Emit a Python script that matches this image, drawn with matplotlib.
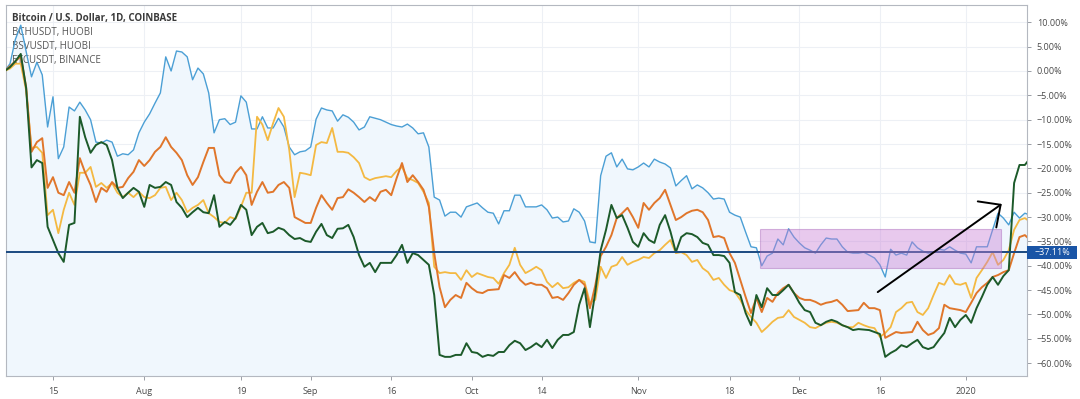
import matplotlib.pyplot as plt
import matplotlib.dates as mdates
from matplotlib.patches import Rectangle
import pandas as pd

plt.rcParams['font.family'] = ['Open Sans', 'DejaVu Sans']

# % change since start, one value per day starting 2019-07-06
btc = [0, 1.5, 6.5, 9.4, 4, -1.2, 1.8, -0.8, -11.5, -5.3,
       -18, -15.6, -7.4, -8.2, -6.4, -8, -10, -14.6, -14.8, -14.2,
       -14.6, -17.5, -17, -17.2, -16.2, -12.7, -10.5, -8.8, -6.6, -4.5,
       2.9, 0, 4.1, 3.9, 2.9, -1.8, 0.6, -0.6, -4.5, -12.7,
       -10, -9.8, -11, -10.5, -5.1, -6.4, -11.9, -11.9, -9.4, -11.7,
       -11.7, -9.7, -11.5, -15.6, -17.2, -16.6, -16.4, -15.6, -9.9, -7.6,
       -8, -8.2, -10.3, -9, -9.5, -10.5, -12.1, -11.5, -9.4, -9.7,
       -10, -10.5, -11, -11.3, -11.5, -10.9, -11.7, -12.9, -12.7, -15.6,
       -25.9, -26.5, -29.8, -29, -29, -30, -27.9, -27.5, -27.1, -28.1,
       -29, -29.2, -31.4, -28.7, -28.7, -25.5, -25.5, -27.9, -27.9, -27.9,
       -27.5, -28.5, -30.2, -30, -31, -30.8, -28.3, -29, -30.8, -35.1,
       -35.3, -21.5, -17.5, -16.8, -19.7, -18.1, -20.1, -20.3, -19.7, -18.9,
       -19.7, -18.1, -18.7, -19.1, -19.9, -23.6, -22.5, -21.5, -24.2, -23.4,
       -24, -25, -26.3, -26.1, -26.3, -29, -29.6, -30, -33.1, -36.1,
       -36.3, -40, -38, -37.4, -34.5, -35.7, -32.4, -34.1, -35.3, -36.3,
       -36.8, -37.4, -35.7, -34.3, -34.5, -34.5, -36.1, -37.2, -37.4, -37.4,
       -37.2, -37.8, -38.4, -39.8, -42.3, -36.6, -37.8, -37.4, -37.8, -35.1,
       -36.3, -37, -37.4, -37.2, -36.6, -36.8, -36.1, -36.8, -37.4, -37.6,
       -39.4, -36.1, -36.1, -36.1, -32.6, -29.2, -30.2, -31.6, -29, -30.2,
       -29.2, -29.6]

bch = [0, 1, 2, 3, -3.3, -16.6, -14.6, -13.8, -24, -21.8,
       -25, -25.5, -22.8, -25, -17.9, -20.9, -23.4, -26.9, -24, -24.8,
       -22.8, -24, -23.8, -22, -20.7, -18.3, -19.5, -18.3, -16.6, -15.6,
       -13.6, -15.6, -16.8, -18.3, -21.4, -23.4, -21.8, -18.7, -15.8, -15.8,
       -21.4, -22.8, -23, -20.9, -19.7, -21.4, -27.5, -24.8, -22.8, -25,
       -24.8, -23.4, -22.8, -24, -30, -30.6, -31.2, -31.2, -28.1, -25.5,
       -27.1, -28.5, -26.1, -25.9, -24.3, -25, -25.9, -26.9, -25.9, -26.7,
       -24.8, -24.4, -25.5, -22, -18.9, -22.8, -21.4, -22.8, -24.4, -27.9,
       -37.4, -44.4, -48.5, -47, -46, -46.6, -43.5, -44.6, -45.4, -45.6,
       -45, -44.9, -44.8, -41.9, -42.5, -41.3, -42.9, -43.9, -43.5, -43.9,
       -43.9, -44.6, -46.6, -46.4, -47, -45.6, -43.9, -42.9, -43.9, -48.7,
       -44, -38, -36.1, -33.7, -30.2, -29.2, -28.1, -30, -32.2, -27.1,
       -28.5, -27.1, -26.1, -24.4, -27.5, -30.6, -30, -29.2, -28.7, -28.5,
       -29, -30.6, -34.1, -33.9, -34.3, -37.4, -39.4, -42.9, -46.4, -49.7,
       -46.6, -49.5, -46.6, -47.4, -45.6, -44.6, -43.9, -45.6, -46.6, -47,
       -47, -47.4, -48, -47.6, -47.4, -47, -48, -49.3, -49.2, -49.1,
       -47.6, -48.7, -48.7, -49.1, -54.8, -54.2, -53.6, -53.8, -53.7, -53.6,
       -51.5, -53.2, -54.2, -53.8, -52.8, -48, -48.7, -48.9, -49.1, -49.5,
       -47.6, -45.6, -44.4, -43.5, -42.3, -41.9, -41.3, -40.9, -37.4, -34.1,
       -33.7, -34.7]

bsv = [0, 0.5, 1.5, 1.5, -4, -15.8, -15.6, -16.8, -29.6, -28.5,
       -33.3, -28.5, -25, -27.5, -20.9, -20.9, -19.7, -23.8, -23, -24,
       -23, -25, -25.9, -25, -25.9, -24.8, -25.9, -26.1, -25.5, -24,
       -23.8, -26.5, -25, -26.5, -29, -28.1, -27.5, -26.5, -29.2, -30,
       -31, -31.2, -30, -30.4, -27.9, -25, -25, -9.4, -11, -14.2,
       -10.7, -7.6, -9.4, -16.2, -25.9, -20.9, -21.1, -21.4, -15.2, -14.6,
       -14.8, -11.7, -16.6, -16.6, -16.8, -17.7, -18.9, -21.8, -22.4, -22,
       -21.8, -21.6, -21.8, -20.5, -19.7, -22, -22.4, -23, -24.8, -27.1,
       -40.2, -41.5, -41.3, -41.5, -41.5, -42.9, -40.9, -42.3, -41.5, -41.9,
       -42.3, -42.5, -43.7, -41.5, -39.8, -36.3, -39.8, -41.5, -40.9, -40.2,
       -40.9, -43.3, -44.4, -43.5, -44.6, -44.4, -43.5, -42.9, -43.3, -47.6,
       -47, -40.2, -42.5, -40.2, -39.8, -38.2, -39.8, -39.2, -38.8, -38.2,
       -38.4, -37.4, -36.8, -35.7, -34.7, -37.4, -37.2, -37.8, -39.2, -38.8,
       -40.5, -41.3, -42.9, -42.5, -43.9, -45, -45.4, -47, -49.1, -50.5,
       -51.7, -53.6, -52.6, -51.5, -50.7, -50.5, -49.1, -50.5, -51.1, -51.7,
       -52.6, -52.8, -52.2, -51.7, -51.5, -51.7, -52.2, -52.6, -52.6, -51.7,
       -52.2, -52.6, -52.8, -54.6, -53.8, -52.6, -49.5, -48.7, -47.6, -47.4,
       -49.5, -50.1, -48.7, -46, -43.5, -43.9, -41.9, -43.7, -43.9, -43.5,
       -46.6, -42.5, -40.9, -39.2, -37.2, -39.8, -38.8, -36.8, -32.6, -30.6,
       -30.2, -31]

etc = [0, 0.8, 2, 3.5, -3.5, -19.8, -18.3, -18.9, -32, -34.7,
       -37.4, -39.2, -31.6, -31.2, -9.4, -13.6, -16.8, -15.2, -14.6, -15.2,
       -18.3, -24, -26.1, -25, -24, -24.8, -27.9, -23.4, -24, -23.8,
       -22.8, -23.4, -26.9, -28.1, -30, -29, -28.1, -29, -29.2, -25.5,
       -32, -31, -31.6, -30.2, -27.5, -28.5, -33.7, -32, -31.2, -33.3,
       -33, -32.2, -32.6, -33.7, -34.5, -34.3, -34.9, -35.1, -33, -31.4,
       -33.7, -34.3, -32.4, -32.3, -31.6, -34.1, -37.8, -40.2, -39.4, -41.3,
       -39.4, -39.4, -39.4, -37.8, -35.7, -39.4, -37.4, -37.8, -38.8, -39.8,
       -46, -58.3, -58.7, -58.7, -58.3, -58.3, -55.9, -57.7, -57.9, -58.7,
       -58.3, -58.5, -57.7, -57.7, -56.3, -55.4, -55.9, -57.3, -56.7, -55.9,
       -56.7, -55.2, -56.9, -55.2, -54.2, -54.2, -53.6, -48, -44.6, -52.6,
       -45.4, -36.8, -32.6, -27.5, -30.2, -29.6, -32.2, -35.1, -36.1, -33.3,
       -34.7, -35.3, -31.6, -29.6, -33, -37.2, -34.1, -33.3, -33.5, -34.1,
       -35.3, -35.7, -37.8, -37.8, -38, -39.4, -45.4, -46, -49.7, -52.2,
       -46, -48.5, -44.6, -46, -46, -45, -43.9, -45.6, -47.6, -49.1,
       -49.5, -51.7, -52.2, -51.5, -51.1, -51.5, -52.2, -52.6, -53.2, -53,
       -53.1, -53.2, -53.6, -54, -58.7, -57.9, -57.3, -56.3, -56.7, -55.9,
       -55.2, -56.7, -57.1, -56.7, -55.2, -53.8, -50.7, -52.6, -51.1, -50.1,
       -51.7, -48.7, -46.4, -43.9, -42.3, -43.9, -42.1, -40.9, -23, -19.3,
       -19.3, -17.9]

legend_title = 'Bitcoin / U.S. Dollar, 1D, COINBASE'
legend_rows = ['BCHUSDT, HUOBI', 'BSVUSDT, HUOBI', 'ETCUSDT, BINANCE']

tick_dates = ['2019-07-15', '2019-08-01', '2019-08-19', '2019-09-01', '2019-09-16',
              '2019-10-01', '2019-10-14', '2019-11-01', '2019-11-18', '2019-12-01',
              '2019-12-16', '2020-01-01']
tick_labels = ['15', 'Aug', '19', 'Sep', '16', 'Oct', '14', 'Nov', '18', 'Dec', '16', '2020']

last_value = -37.11

dates = pd.date_range('2019-07-06', periods=len(btc), freq='D')
day0 = pd.Timestamp('2019-07-07')

fig = plt.figure(figsize=(10.8, 3.99), dpi=100)
ax = fig.add_axes([6 / 1080, 23 / 399, 1021 / 1080, 371 / 399])

# main series as area
ax.fill_between(dates, btc, -70, color='#f0f7fd', lw=0, zorder=1)
ax.plot(dates, btc, color='#4b9fd5', lw=1.0, zorder=3)
ax.plot(dates, bsv, color='#f4b942', lw=1.3, zorder=3)
ax.plot(dates, bch, color='#e0762b', lw=1.4, zorder=3)
ax.plot(dates, etc, color='#1c5a2a', lw=1.4, zorder=3)

ax.axhline(last_value, color='#1b4a80', lw=1.4, zorder=4)

# highlighted range box
x0 = mdates.date2num(day0 + pd.Timedelta(days=139.7))
x1 = mdates.date2num(day0 + pd.Timedelta(days=184.5))
ax.add_patch(Rectangle((x0, -40.4), x1 - x0, 8.0, facecolor='#c97fd6', alpha=0.42,
                       edgecolor='#a45db5', lw=0.8, zorder=5))

# arrow
ax.annotate('', xy=(day0 + pd.Timedelta(days=184.7), -27.3),
            xytext=(day0 + pd.Timedelta(days=161.6), -45.4),
            arrowprops=dict(arrowstyle='->,head_length=1.2,head_width=1.15',
                            color='black', lw=1.4, shrinkA=0, shrinkB=0,
                            mutation_scale=10), zorder=6)

ax.set_xlim(day0 - pd.Timedelta(days=0.75), day0 + pd.Timedelta(days=189.4))
ax.set_ylim(-62.63, 13.55)

ax.set_xticks(pd.to_datetime(tick_dates))
ax.set_xticklabels(tick_labels)
yt = list(range(-60, 15, 5))
ax.yaxis.tick_right()
ax.set_yticks(yt)
ax.set_yticklabels([('%.2f%%' % v).replace('-', '\u2212') for v in yt])
ax.tick_params(axis='both', length=3, color='#9a9ea6', labelsize=6.5,
               labelcolor='#4a4a4a', width=0.7)
ax.tick_params(axis='x', pad=5)
ax.tick_params(axis='y', pad=4)

ax.set_axisbelow(True)
ax.grid(True, color='#edf0f5', lw=0.8)
for s in ax.spines.values():
    s.set_color('#b4b8c0')
    s.set_linewidth(0.8)

# legend text (drawn under the lines)
ax.text(12 / 1080, 1 - 19 / 399, legend_title, transform=fig.transFigure,
        fontsize=7, fontweight='bold', color='#3a3a3a', va='center', zorder=2)
for i, row in enumerate(legend_rows):
    ax.text(12 / 1080, 1 - (33 + 14 * i) / 399, row, transform=fig.transFigure,
            fontsize=7, color='#555555', va='center', zorder=2)

# last value label on price scale
fig.patches.append(Rectangle((1027 / 1080, (399 - 259) / 399), 50 / 1080, 13 / 399,
                             transform=fig.transFigure, facecolor='#1a55a6',
                             edgecolor='none'))
fig.text(1052 / 1080, (399 - 252.5) / 399, ('%.2f%%' % last_value).replace('-', '\u2212'),
         color='white', fontsize=6.5, ha='center', va='center')

fig.savefig('out.png', dpi=100)
